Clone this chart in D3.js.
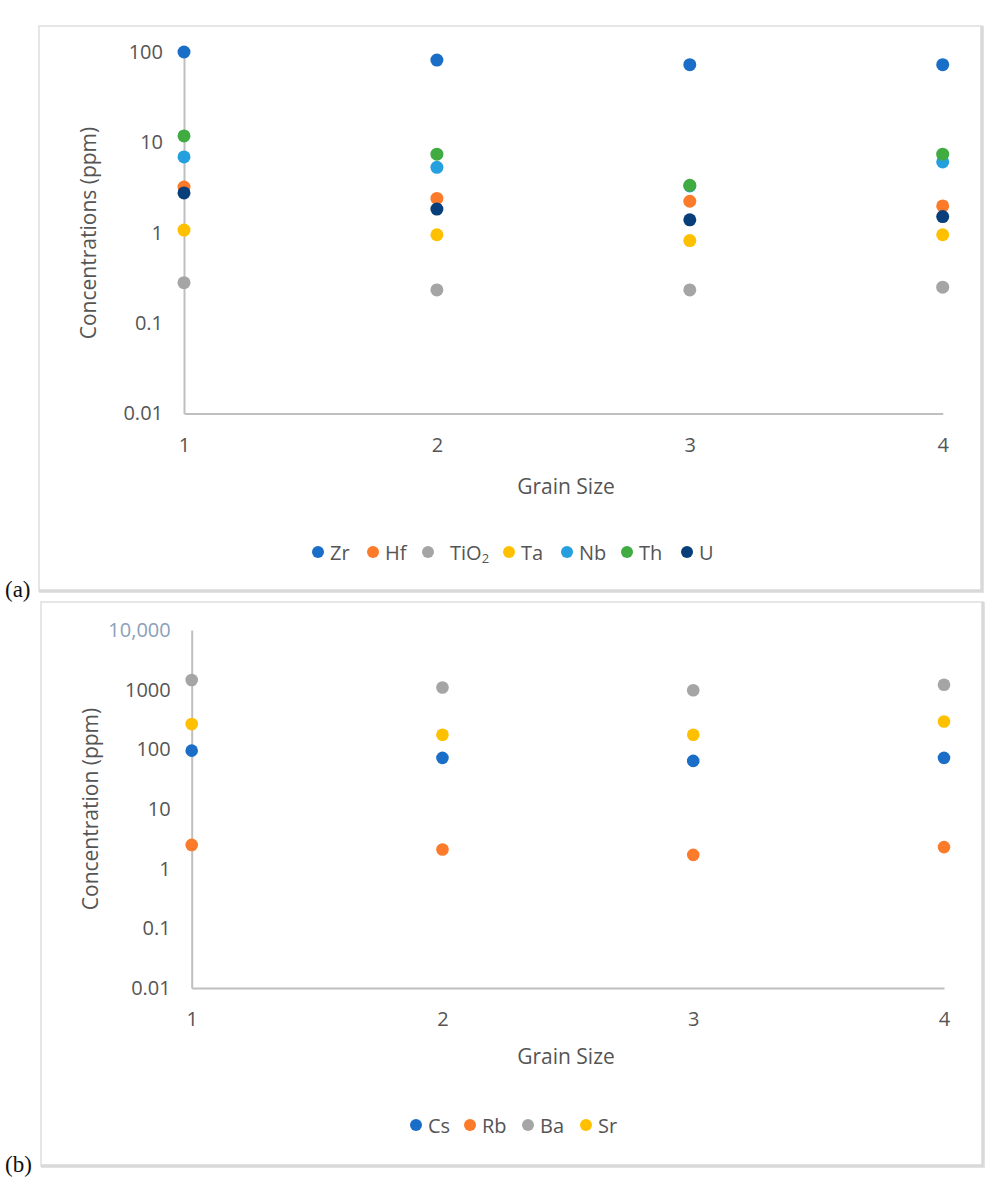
<!DOCTYPE html>
<html>
<head>
<meta charset="utf-8">
<script src="https://cdn.jsdelivr.net/npm/d3@7"></script>
<style>
  body { margin: 0; background: #fff; }
  svg { display: block; font-family: "Open Sans", sans-serif; }
</style>
</head>
<body>
<div class="canvas"></div>
<script>
// data
const grainSizes = [1, 2, 3, 4];

// panel (a)
const zr   = [100, 81.5, 72.4, 72.4];
const hf   = [3.2, 2.4, 2.23, 1.98];
const tio2 = [0.28, 0.233, 0.233, 0.25];
const ta   = [1.07, 0.95, 0.82, 0.95];
const nb   = [6.9, 5.3, 3.3, 6.07];
const th   = [11.8, 7.4, 3.35, 7.4];
const u    = [2.76, 1.83, 1.39, 1.51];

// panel (b)
const cs = [95, 72, 64, 72];
const rb = [2.5, 2.1, 1.7, 2.3];
const ba = [1450, 1090, 980, 1210];
const sr = [265, 176, 176, 293];

const ticksA = [0.01, 0.1, 1, 10, 100];
const ticksB = [0.01, 0.1, 1, 10, 100, 1000, 10000];
const tickLabelsA = ['0.01', '0.1', '1', '10', '100'];
const tickLabelsB = ['0.01', '0.1', '1', '10', '100', '1000', '10,000'];

const seriesA = [
    {name: 'Zr', values: zr, color: '#1b6ec8'},
    {name: 'Hf', values: hf, color: '#fb7b2b'},
    {name: 'TiO2', values: tio2, color: '#a5a5a5'},
    {name: 'Ta', values: ta, color: '#ffc000'},
    {name: 'Nb', values: nb, color: '#25a0df'},
    {name: 'Th', values: th, color: '#3fab41'},
    {name: 'U', values: u, color: '#083f7b'}
];
const seriesB = [
    {name: 'Cs', values: cs, color: '#1b6ec8'},
    {name: 'Rb', values: rb, color: '#fb7b2b'},
    {name: 'Ba', values: ba, color: '#a5a5a5'},
    {name: 'Sr', values: sr, color: '#ffc000'}
];

const textColor = '#555555';
const axisColor = '#bfbfbf';

// select the svg container
const svg = d3.select('.canvas')
    .append('svg')
        .attr('width', 1007)
        .attr('height', 1197);

// draws one framed panel
const drawPanel = (cfg) => {

    // frame with a heavier right / bottom edge
    svg.append('rect')
        .attr('x', cfg.box[0]).attr('y', cfg.box[1])
        .attr('width', cfg.box[2] - cfg.box[0])
        .attr('height', cfg.box[3] - cfg.box[1])
        .attr('fill', '#fff')
        .attr('stroke', '#dedede')
        .attr('stroke-width', 1.5);
    svg.append('path')
        .attr('d', `M${cfg.box[2]},${cfg.box[1]} V${cfg.box[3]} H${cfg.box[0]}`)
        .attr('fill', 'none')
        .attr('stroke', '#d9d9d9')
        .attr('stroke-width', 3.5);

    // panel letter
    svg.append('text')
        .attr('x', 5).attr('y', cfg.box[3] + 6)
        .attr('font-family', '"Liberation Serif", serif')
        .attr('font-size', 23)
        .attr('fill', '#111')
        .text(cfg.letter);

    // scales
    const x = d3.scaleLinear()
        .domain([1, 4])
        .range(cfg.xRange);

    const y = d3.scaleLog()
        .domain([ticksA[0], cfg.ticks[cfg.ticks.length - 1]])
        .range(cfg.yRange);

    // axes
    const yAxis = d3.axisLeft(y)
        .tickValues(cfg.ticks)
        .tickFormat((d, i) => cfg.tickLabels[i])
        .tickSize(0)
        .tickSizeOuter(0)
        .tickPadding(21);

    const xAxis = d3.axisBottom(x)
        .tickValues(grainSizes)
        .tickFormat(d3.format('d'))
        .tickSize(0)
        .tickSizeOuter(0)
        .tickPadding(24);

    const yAxisGroup = svg.append('g')
        .attr('transform', `translate(${cfg.xRange[0]}, 0)`)
        .call(yAxis);
    const xAxisGroup = svg.append('g')
        .attr('transform', `translate(0, ${cfg.yRange[0]})`)
        .call(xAxis);

    [xAxisGroup, yAxisGroup].forEach(g => {
        g.select('.domain')
            .attr('stroke', axisColor)
            .attr('stroke-width', 2);
        g.selectAll('text')
            .attr('font-size', 20)
            .attr('font-family', '"Open Sans", sans-serif')
            .attr('fill', textColor);
    });

    if (cfg.highlightTop) {
        yAxisGroup.selectAll('.tick text')
            .filter(d => d === 10000)
            .attr('fill', '#8aa0b8');
    }

    // axis titles
    svg.append('text')
        .attr('transform', `translate(${cfg.yTitle[0]}, ${cfg.yTitle[1]}) rotate(-90)`)
        .attr('text-anchor', 'middle')
        .attr('dominant-baseline', 'central')
        .attr('font-size', 21)
        .attr('fill', textColor)
        .text(cfg.yLabel);

    svg.append('text')
        .attr('x', cfg.xTitle[0]).attr('y', cfg.xTitle[1])
        .attr('text-anchor', 'middle')
        .attr('dominant-baseline', 'central')
        .attr('font-size', 21)
        .attr('fill', textColor)
        .text('Grain Size');

    // points
    cfg.series.forEach(s => {
        svg.append('g')
            .selectAll('circle')
            .data(s.values)
            .enter()
            .append('circle')
                .attr('cx', (d, i) => x(grainSizes[i]))
                .attr('cy', d => y(d))
                .attr('r', cfg.r)
                .attr('fill', s.color);
    });

    // legend
    const legend = svg.append('g');
    cfg.series.forEach((s, i) => {
        const lx = cfg.legendX[i];
        legend.append('circle')
            .attr('cx', lx).attr('cy', cfg.legendY)
            .attr('r', 6)
            .attr('fill', s.color);
        const t = legend.append('text')
            .attr('x', lx + (s.name === 'TiO2' ? 22 : 12))
            .attr('y', cfg.legendY)
            .attr('dominant-baseline', 'central')
            .attr('font-size', 20)
            .attr('fill', textColor);
        if (s.name === 'TiO2') {
            t.append('tspan').text('TiO');
            t.append('tspan').attr('font-size', 13).attr('dy', 6).text('2');
        } else {
            t.text(s.name);
        }
    });
};

drawPanel({
    letter: '(a)',
    box: [39, 26, 982, 591],
    xRange: [184, 942.7],
    yRange: [413.5, 52],
    ticks: ticksA,
    tickLabels: tickLabelsA,
    yLabel: 'Concentrations (ppm)',
    yTitle: [88, 233],
    xTitle: [566, 486],
    series: seriesA,
    r: 6.5,
    legendX: [318, 373, 428, 509, 567, 627, 687],
    legendY: 552
});

drawPanel({
    letter: '(b)',
    box: [41, 602, 983, 1166],
    xRange: [191.7, 944],
    yRange: [988, 630],
    ticks: ticksB,
    tickLabels: tickLabelsB,
    highlightTop: true,
    yLabel: 'Concentration (ppm)',
    yTitle: [90, 809],
    xTitle: [566, 1056],
    series: seriesB,
    r: 6.3,
    legendX: [416, 470, 528, 586],
    legendY: 1125
});
</script>
</body>
</html>
